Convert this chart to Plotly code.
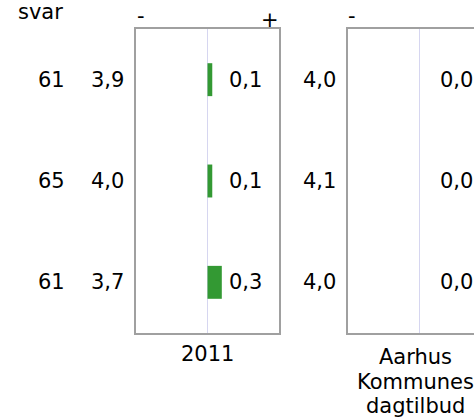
import plotly.graph_objects as go

# ---- data ----
rows = ["r1", "r2", "r3"]
n_answers = [61, 65, 61]
mean_2011 = [3.9, 4.0, 3.7]
diff_2011 = [0.1, 0.1, 0.3]
mean_aarhus = [4.0, 4.1, 4.0]
diff_aarhus = [0.0, 0.0, 0.0]
panel_labels = ["2011", "Aarhus<br>Kommunes<br>dagtilbud"]
header = "svar"

W, H = 474, 417
FONT = "Verdana, DejaVu Sans, sans-serif"
FS = 21
GREEN = "#339933"
BORDER = "#a0a0a0"
ZERO = "#d6d6f0"

def fmt(v):
    return f"{v:.1f}".replace(".", ",")

def px_x(p):
    return p / W

def px_y(p):
    return 1 - p / H

# panel pixel geometry
top, bottom = 29, 333
p1_l, p1_r = 136, 279
p2_l, p2_c = 348, 419
scale = (p1_r - p1_l) / 3.0  # px per unit, range [-1.5, 1.5]
x2_range = [-(p2_c - p2_l) / scale, (W - p2_c) / scale]

fig = go.Figure()
fig.add_trace(go.Bar(x=diff_2011, y=rows, orientation="h", base=0, width=0.325,
                     marker=dict(color=GREEN, line=dict(width=0)),
                     xaxis="x", yaxis="y", showlegend=False, hoverinfo="skip"))
fig.add_trace(go.Bar(x=diff_aarhus, y=rows, orientation="h", base=0, width=0.325,
                     marker=dict(color=GREEN, line=dict(width=0)),
                     xaxis="x2", yaxis="y2", showlegend=False, hoverinfo="skip"))

ann = []
txt = dict(family=FONT, size=FS, color="black")
for r, n, m1, d1, m2, d2 in zip(rows, n_answers, mean_2011, diff_2011, mean_aarhus, diff_aarhus):
    ann.append(dict(text=str(n), xref="paper", x=px_x(67), xanchor="right", yref="y", y=r,
                    yanchor="middle", showarrow=False, font=txt))
    ann.append(dict(text=fmt(m1), xref="paper", x=px_x(126), xanchor="right", yref="y", y=r,
                    yanchor="middle", showarrow=False, font=txt))
    ann.append(dict(text=fmt(d1), xref="x", x=0.4, xanchor="left", yref="y", y=r,
                    yanchor="middle", showarrow=False, font=txt))
    ann.append(dict(text=fmt(m2), xref="paper", x=px_x(338), xanchor="right", yref="y", y=r,
                    yanchor="middle", showarrow=False, font=txt))
    ann.append(dict(text=fmt(d2), xref="x2", x=0.4, xanchor="left", yref="y2", y=r,
                    yanchor="middle", showarrow=False, font=txt))

ann.append(dict(text=header, xref="paper", x=px_x(16), xanchor="left", yref="paper",
                y=px_y(12), yanchor="middle", showarrow=False, font=txt))
# minus / plus markers above panels
ann.append(dict(text="-", xref="paper", x=px_x(135), xanchor="left", yref="paper",
                y=px_y(16), yanchor="middle", showarrow=False, font=txt))
ann.append(dict(text="+", xref="paper", x=px_x(281), xanchor="right", yref="paper",
                y=px_y(20), yanchor="middle", showarrow=False, font=txt))
ann.append(dict(text="-", xref="paper", x=px_x(346), xanchor="left", yref="paper",
                y=px_y(16), yanchor="middle", showarrow=False, font=txt))
# panel labels
ann.append(dict(text=panel_labels[0], xref="x", x=0, xanchor="center", yref="paper",
                y=px_y(354), yanchor="middle", showarrow=False, font=txt))
for i, line in enumerate(panel_labels[1].split("<br>")):
    ann.append(dict(text=line, xref="x2", x=-0.08, xanchor="center", yref="paper",
                    y=px_y(357 + 24.5 * i), yanchor="middle", showarrow=False, font=txt))

ydom = [px_y(bottom), px_y(top)]
common_x = dict(showgrid=False, zeroline=True, zerolinecolor=ZERO, zerolinewidth=1,
                showline=True, mirror=True, linecolor=BORDER, linewidth=1.5,
                showticklabels=False, ticks="", fixedrange=True)
fig.update_layout(
    width=W, height=H, autosize=False,
    margin=dict(l=0, r=0, t=0, b=0),
    paper_bgcolor="white", plot_bgcolor="white",
    barmode="overlay",
    font=txt,
    xaxis=dict(domain=[px_x(p1_l), px_x(p1_r)], range=[-1.5, 1.5], anchor="y", **common_x),
    xaxis2=dict(domain=[px_x(p2_l), 1.0], range=x2_range, anchor="y2", **common_x),
    yaxis=dict(domain=ydom, type="category", categoryarray=rows, range=[2.5, -0.5],
               showticklabels=False, ticks="", showgrid=False, zeroline=False,
               showline=True, mirror=True, linecolor=BORDER, linewidth=1.5, anchor="x"),
    yaxis2=dict(domain=ydom, type="category", categoryarray=rows, range=[2.5, -0.5],
                showticklabels=False, ticks="", showgrid=False, zeroline=False,
                showline=True, mirror=False, linecolor=BORDER, linewidth=1.5, anchor="x2"),
    annotations=ann,
)
fig.write_html("out.html", config=dict(displayModeBar=False),
               post_script="document.body.style.margin='0';document.body.style.overflow='hidden';")
